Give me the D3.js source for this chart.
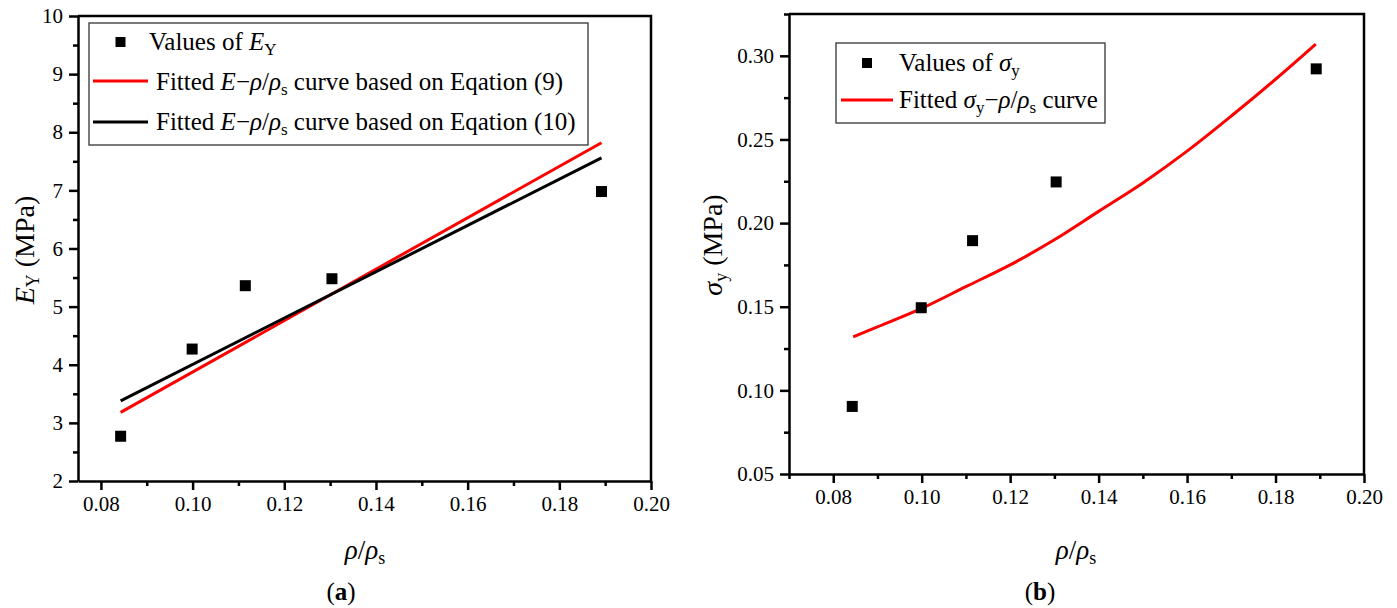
<!DOCTYPE html>
<html><head><meta charset="utf-8">
<script src="https://cdn.jsdelivr.net/npm/d3@7"></script>
<style>
body{margin:0;background:#fff;}
svg text{font-family:'Liberation Serif','Times New Roman',Times,'DejaVu Serif',serif;}
</style></head>
<body><svg id="c" width="1397" height="608"></svg>
<script>
// ---- data ----
const rhoRatio = [0.0843, 0.0999, 0.1115, 0.1304, 0.1892];
const eyValues = [2.77, 4.27, 5.36, 5.48, 6.98];
const sigmaValues = [0.0904, 0.1494, 0.1895, 0.2246, 0.2922];
const fitEq9X = [0.0843, 0.1892];
const fitEq9Y = [3.18, 7.82];
const fitEq10X = [0.0843, 0.1892];
const fitEq10Y = [3.38, 7.56];
const sigmaFitX = [0.0845, 0.09, 0.10, 0.11, 0.12, 0.13, 0.14, 0.15, 0.16, 0.17, 0.18, 0.1891];
const sigmaFitY = [0.132, 0.138, 0.149, 0.162, 0.175, 0.190, 0.207, 0.224, 0.243, 0.264, 0.286, 0.307];
const xTicks = [0.08, 0.10, 0.12, 0.14, 0.16, 0.18, 0.20];
const xMinorA = [0.09, 0.11, 0.13, 0.15, 0.17, 0.19];
const xMinorB = [0.07, 0.09, 0.11, 0.13, 0.15, 0.17, 0.19];
const eyTicks = [2, 3, 4, 5, 6, 7, 8, 9, 10];
const eyMinor = [2.5, 3.5, 4.5, 5.5, 6.5, 7.5, 8.5, 9.5];
const sigTicks = [0.05, 0.10, 0.15, 0.20, 0.25, 0.30];
const sigMinor = [0.075, 0.125, 0.175, 0.225, 0.275, 0.325];

const FONT = "'Liberation Serif','Times New Roman',Times,'DejaVu Serif',serif";
const svg = d3.select("#c").attr("font-family", FONT);
const AX = 2.5;
const TICKFS = 21, LEGFS = 25, SUBFS = 17, TITLEFS = 27;

function panel(o) {
  const g = svg.append("g");
  const x = d3.scaleLinear().domain(o.xDom).range(o.xRange);
  const y = d3.scaleLinear().domain(o.yDom).range(o.yRange);
  const [x0, x1] = o.xRange, [y0, y1] = o.yRange;
  g.append("path").attr("d", `M${x0},${y1}H${x1}V${y0}`)
    .attr("fill", "none").attr("stroke", "#000").attr("stroke-width", AX);
  g.append("g").attr("transform", `translate(0,${y0})`)
    .call(d3.axisBottom(x).tickValues(o.xMinor).tickSize(5).tickSizeOuter(0).tickFormat(""))
    .call(s => s.select(".domain").remove())
    .call(s => s.selectAll("line").attr("stroke-width", AX));
  g.append("g").attr("transform", `translate(${x0},0)`)
    .call(d3.axisLeft(y).tickValues(o.yMinor).tickSize(5).tickSizeOuter(0).tickFormat(""))
    .call(s => s.select(".domain").remove())
    .call(s => s.selectAll("line").attr("stroke-width", AX));
  const xa = g.append("g").attr("transform", `translate(0,${y0})`)
    .call(d3.axisBottom(x).tickValues(o.xTicks).tickSize(9).tickSizeOuter(0).tickPadding(6).tickFormat(d3.format(".2f")));
  const ya = g.append("g").attr("transform", `translate(${x0},0)`)
    .call(d3.axisLeft(y).tickValues(o.yTicks).tickSize(9).tickSizeOuter(0).tickPadding(6).tickFormat(o.yFmt));
  [xa, ya].forEach(a => {
    a.attr("font-family", FONT).attr("font-size", TICKFS);
    a.select(".domain").attr("stroke-width", AX);
    a.selectAll("line").attr("stroke-width", AX);
    a.selectAll("text").attr("font-family", FONT).attr("font-size", TICKFS).attr("fill", "#000");
  });
  return {g, x, y};
}

// ---------- panel (a) ----------
const A = panel({xDom: [0.075, 0.20], xRange: [78, 651], yDom: [2, 10], yRange: [481, 16],
  xTicks, xMinor: xMinorA, yTicks: eyTicks, yMinor: eyMinor, yFmt: d3.format("d")});
const lineA = d3.line().x(d => A.x(d[0])).y(d => A.y(d[1]));
A.g.append("path").datum(d3.zip(fitEq9X, fitEq9Y)).attr("d", lineA)
  .attr("fill", "none").attr("stroke", "#ff0000").attr("stroke-width", 3);
A.g.append("path").datum(d3.zip(fitEq10X, fitEq10Y)).attr("d", lineA)
  .attr("fill", "none").attr("stroke", "#000").attr("stroke-width", 3);
A.g.selectAll("rect.pt").data(d3.zip(rhoRatio, eyValues)).join("rect").attr("class", "pt")
  .attr("x", d => A.x(d[0]) - 5.5).attr("y", d => A.y(d[1]) - 5.5).attr("width", 11).attr("height", 11).attr("fill", "#000");

// legend (a)
const LA = svg.append("g").attr("font-size", LEGFS).attr("font-family", FONT);
LA.append("rect").attr("x", 89).attr("y", 23).attr("width", 499).attr("height", 122)
  .attr("fill", "#fff").attr("stroke", "#333").attr("stroke-width", 1.3);
LA.append("rect").attr("x", 115.5).attr("y", 37).attr("width", 10).attr("height", 10).attr("fill", "#000");
let t = LA.append("text").attr("x", 149).attr("y", 50);
t.append("tspan").text("Values of ");
t.append("tspan").attr("font-style", "italic").text("E");
t.append("tspan").attr("font-size", SUBFS).attr("dy", 5).text("Y");
LA.append("line").attr("x1", 93).attr("x2", 148).attr("y1", 81).attr("y2", 81).attr("stroke", "#ff0000").attr("stroke-width", 3);
LA.append("line").attr("x1", 93).attr("x2", 148).attr("y1", 122).attr("y2", 122).attr("stroke", "#000").attr("stroke-width", 3);
function fitLabel(yb, tail) {
  const tt = LA.append("text").attr("x", 156).attr("y", yb);
  tt.append("tspan").text("Fitted ");
  tt.append("tspan").attr("font-style", "italic").text("E");
  tt.append("tspan").text("\u2212");
  tt.append("tspan").attr("font-style", "italic").text("\u03C1");
  tt.append("tspan").text("/");
  tt.append("tspan").attr("font-style", "italic").text("\u03C1");
  tt.append("tspan").attr("font-size", SUBFS).attr("dy", 5).text("s");
  tt.append("tspan").attr("dy", -5).text(" curve based on " + tail);
}
fitLabel(90, "Eqation (9)");
fitLabel(130, "Eqation (10)");

// ---------- panel (b) ----------
const B = panel({xDom: [0.07, 0.20], xRange: [789, 1364], yDom: [0.05, 0.325], yRange: [474, 14],
  xTicks, xMinor: xMinorB, yTicks: sigTicks, yMinor: sigMinor, yFmt: d3.format(".2f")});
const lineB = d3.line().x(d => B.x(d[0])).y(d => B.y(d[1])).curve(d3.curveCatmullRom);
B.g.append("path").datum(d3.zip(sigmaFitX, sigmaFitY)).attr("d", lineB)
  .attr("fill", "none").attr("stroke", "#ff0000").attr("stroke-width", 3);
B.g.selectAll("rect.pt").data(d3.zip(rhoRatio, sigmaValues)).join("rect").attr("class", "pt")
  .attr("x", d => B.x(d[0]) - 5.5).attr("y", d => B.y(d[1]) - 5.5).attr("width", 11).attr("height", 11).attr("fill", "#000");

const LB = svg.append("g").attr("font-size", LEGFS).attr("font-family", FONT);
LB.append("rect").attr("x", 836).attr("y", 43).attr("width", 269).attr("height", 80)
  .attr("fill", "#fff").attr("stroke", "#333").attr("stroke-width", 1.3);
LB.append("rect").attr("x", 862).attr("y", 58).attr("width", 10).attr("height", 10).attr("fill", "#000");
t = LB.append("text").attr("x", 899).attr("y", 71);
t.append("tspan").text("Values of ");
t.append("tspan").attr("font-style", "italic").text("\u03C3");
t.append("tspan").attr("font-size", SUBFS).attr("dy", 5).text("y");
LB.append("line").attr("x1", 841).attr("x2", 893).attr("y1", 100).attr("y2", 100).attr("stroke", "#ff0000").attr("stroke-width", 3);
t = LB.append("text").attr("x", 899).attr("y", 108);
t.append("tspan").text("Fitted ");
t.append("tspan").attr("font-style", "italic").text("\u03C3");
t.append("tspan").attr("font-size", SUBFS).attr("dy", 5).text("y");
t.append("tspan").attr("dy", -5).text("\u2212");
t.append("tspan").attr("font-style", "italic").text("\u03C1");
t.append("tspan").text("/");
t.append("tspan").attr("font-style", "italic").text("\u03C1");
t.append("tspan").attr("font-size", SUBFS).attr("dy", 5).text("s");
t.append("tspan").attr("dy", -5).text(" curve");

// ---------- axis titles ----------
function rhoTitle(cx) {
  const tt = svg.append("text").attr("x", cx).attr("y", 559).attr("text-anchor", "middle").attr("font-size", TITLEFS);
  tt.append("tspan").attr("font-style", "italic").text("\u03C1");
  tt.append("tspan").text("/");
  tt.append("tspan").attr("font-style", "italic").text("\u03C1");
  tt.append("tspan").attr("font-size", 18).attr("dy", 5).text("s");
}
rhoTitle(365);
rhoTitle(1076);

function yTitle(cx, cy, sym, sub) {
  const tt = svg.append("text").attr("transform", `translate(${cx},${cy}) rotate(-90)`)
    .attr("text-anchor", "middle").attr("font-size", 28);
  tt.append("tspan").attr("font-style", "italic").text(sym);
  tt.append("tspan").attr("font-size", 18).attr("dy", 5).text(sub);
  tt.append("tspan").attr("dy", -5).text(" (MPa)");
}
yTitle(34, 250, "E", "Y");
yTitle(722, 245, "\u03C3", "y");

// ---------- captions ----------
function caption(cx, letter) {
  const tt = svg.append("text").attr("x", cx).attr("y", 600).attr("text-anchor", "middle").attr("font-size", 25);
  tt.append("tspan").text("(");
  tt.append("tspan").attr("font-weight", "bold").text(letter);
  tt.append("tspan").text(")");
}
caption(341, "a");
caption(1040, "b");
</script></body></html>
